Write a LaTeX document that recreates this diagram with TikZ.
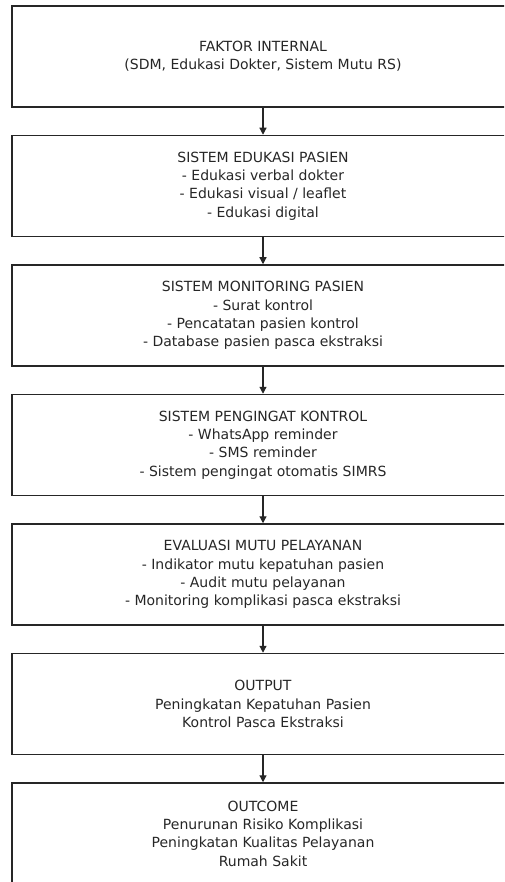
\documentclass[tikz,border=0pt]{standalone}
\usepackage{fontspec}
\setmainfont{DejaVu Sans}
\usetikzlibrary{arrows.meta}

\tikzset{
  kotak/.style={draw=black!85, line width=1.5pt, minimum width=502pt,
    minimum height=101pt, inner sep=0pt, align=center, text=black!85,
    font=\fontsize{14}{18.4}\selectfont},
  panah/.style={draw=black!85, line width=1.2pt,
    -{Triangle[length=7pt,width=7pt]}}
}

\begin{document}
\begin{tikzpicture}[x=1pt,y=-1pt]
	
	% batas gambar
	\useasboundingbox (0,0) rectangle (504,882);
	\clip (0,0) rectangle (504,882);
	
	% kotak-kotak
	\node[kotak] (faktor) at (263,56.5) {FAKTOR INTERNAL\\(SDM, Edukasi Dokter, Sistem Mutu RS)};
	\node[kotak] (edukasi) at (263,186) {SISTEM EDUKASI PASIEN\\- Edukasi verbal dokter\\- Edukasi visual / leaflet\\- Edukasi digital};
	\node[kotak] (monitor) at (263,315.5) {SISTEM MONITORING PASIEN\\- Surat kontrol\\- Pencatatan pasien kontrol\\- Database pasien pasca ekstraksi};
	\node[kotak] (pengingat) at (263,445) {SISTEM PENGINGAT KONTROL\\- WhatsApp reminder\\- SMS reminder\\- Sistem pengingat otomatis SIMRS};
	\node[kotak] (evaluasi) at (263,574.5) {EVALUASI MUTU PELAYANAN\\- Indikator mutu kepatuhan pasien\\- Audit mutu pelayanan\\- Monitoring komplikasi pasca ekstraksi};
	\node[kotak] (output) at (263,704) {OUTPUT\\Peningkatan Kepatuhan Pasien\\Kontrol Pasca Ekstraksi};
	\node[kotak] (outcome) at (263,833.5) {OUTCOME\\Penurunan Risiko Komplikasi\\Peningkatan Kualitas Pelayanan\\Rumah Sakit};
	
	% panah
	\draw[panah] (faktor) -- (edukasi);
	\draw[panah] (edukasi) -- (monitor);
	\draw[panah] (monitor) -- (pengingat);
	\draw[panah] (pengingat) -- (evaluasi);
	\draw[panah] (evaluasi) -- (output);
	\draw[panah] (output) -- (outcome);
\end{tikzpicture}
\end{document}
